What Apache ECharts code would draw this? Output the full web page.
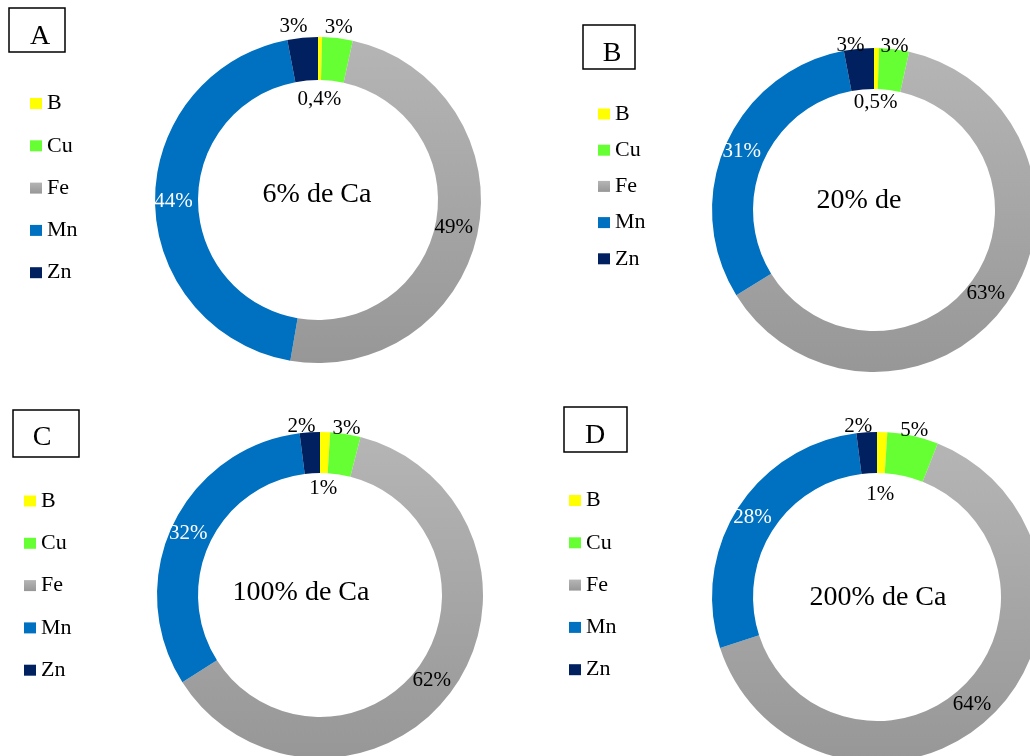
<!DOCTYPE html>
<html>
<head>
<meta charset="utf-8">
<script src="https://cdn.jsdelivr.net/npm/echarts@6/dist/echarts.min.js"></script>
<style>
  html, body { margin: 0; padding: 0; background: #fff; }
  #chart { width: 1030px; height: 756px; }
</style>
</head>
<body>
<div id="chart"></div>
<script>
// Micronutrient shares (%) for each calcium level
const elements = ['B', 'Cu', 'Fe', 'Mn', 'Zn'];
const panelLetters = ['A', 'B', 'C', 'D'];
const centerCaptions = ['6% de Ca', '20% de', '100% de Ca', '200% de Ca'];
const sharesA = [0.4, 3, 49, 44, 3];
const sharesB = [0.5, 3, 63, 31, 3];
const sharesC = [1, 3, 62, 32, 2];
const sharesD = [1, 5, 64, 28, 2];
const panelShares = [sharesA, sharesB, sharesC, sharesD];

const SERIF = "'Liberation Serif', 'Times New Roman', serif";

const feGradient = {
  type: 'linear', x: 0, y: 0, x2: 0, y2: 1,
  colorStops: [{ offset: 0, color: '#B5B5B5' }, { offset: 1, color: '#979797' }]
};
const sliceColors = ['#FFFF00', '#66FF33', feGradient, '#0070C0', '#002060'];

// Placement of each panel on the page
const layouts = [
  { center: [318, 200], radius: [120, 163], outerGap: 11, holeInset: 19,
    legend: { left: 30, top: 92.5, gap: 20.3 },
    box: [9, 8, 56, 44], letterAt: [40, 37], captionAt: [317, 195] },
  { center: [874, 210], radius: [121, 162], outerGap: 3, holeInset: 13,
    legend: { left: 598, top: 103, gap: 14.2 },
    box: [583, 25, 52, 44], letterAt: [612, 54], captionAt: [859, 201] },
  { center: [320, 595], radius: [122, 163], outerGap: 6, holeInset: 15,
    legend: { left: 24, top: 490, gap: 20.3 },
    box: [13, 410, 66, 47], letterAt: [42, 438], captionAt: [301, 593] },
  { center: [877, 597], radius: [124, 165], outerGap: 6, holeInset: 21,
    legend: { left: 569, top: 489.5, gap: 20.3 },
    box: [564, 407, 63, 45], letterAt: [595, 436], captionAt: [878, 598] }
];

function pctLabel(p) {
  return String(p.value).replace('.', ',') + '%';
}

// Outside labels sit over their radial anchor; left-side ones lean outward.
// Fe labels inside the ring sit a little towards the hole.
function placeLabel(params) {
  const w = params.labelRect.width;
  if (params.align === 'left') return { dx: -w / 2 };
  if (params.align === 'right') return { dx: w / 2 - 8 };
  if (elements[params.dataIndex] === 'Fe') return { dx: -6 };
  return {};
}

function buildSeries(values, i) {
  const lay = layouts[i];
  const ringWidth = lay.radius[1] - lay.radius[0];
  return {
    type: 'pie',
    name: panelLetters[i],
    center: lay.center,
    radius: lay.radius,
    startAngle: 90,
    clockwise: true,
    avoidLabelOverlap: false,
    silent: true,
    animation: false,
    label: {
      fontFamily: SERIF, fontSize: 21, color: '#000',
      formatter: pctLabel, distanceToLabelLine: 0
    },
    labelLine: { show: false, length: lay.outerGap, length2: 0 },
    labelLayout: placeLabel,
    data: elements.map((name, k) => {
      const item = { name: name, value: values[k], itemStyle: { color: sliceColors[k], borderWidth: 0 } };
      if (name === 'Fe' || name === 'Mn') {
        item.label = { position: 'inside', color: name === 'Mn' ? '#fff' : '#000' };
      } else if (name === 'B') {
        item.label = { position: 'outside' };
        item.labelLine = { show: false, length: -(ringWidth + lay.holeInset), length2: 0 };
      } else {
        item.label = { position: 'outside' };
      }
      return item;
    })
  };
}

const legendItems = elements.map((name, k) => ({
  name: name,
  itemStyle: { color: sliceColors[k], borderWidth: 0, opacity: 1 }
}));

const legends = layouts.map(lay => ({
  data: legendItems,
  orient: 'vertical',
  left: lay.legend.left,
  top: lay.legend.top,
  padding: 0,
  itemGap: lay.legend.gap,
  itemWidth: 12,
  itemHeight: 11,
  icon: 'rect',
  selectedMode: false,
  textStyle: { fontFamily: SERIF, fontSize: 22, color: '#000', lineHeight: 22 }
}));

const graphics = [];
layouts.forEach((lay, i) => {
  graphics.push({
    type: 'rect', silent: true,
    shape: { x: lay.box[0], y: lay.box[1], width: lay.box[2], height: lay.box[3] },
    style: { fill: 'none', stroke: '#000', lineWidth: 1.5 }
  });
  graphics.push({
    type: 'text', silent: true, x: lay.letterAt[0], y: lay.letterAt[1],
    style: { text: panelLetters[i], font: '28px ' + SERIF, fill: '#000',
             align: 'center', verticalAlign: 'middle' }
  });
  graphics.push({
    type: 'text', silent: true, x: lay.captionAt[0], y: lay.captionAt[1],
    style: { text: centerCaptions[i], font: '28px ' + SERIF, fill: '#000',
             align: 'center', verticalAlign: 'middle' }
  });
});

const chart = echarts.init(document.getElementById('chart'), null, { renderer: 'canvas' });
chart.setOption({
  backgroundColor: '#fff',
  animation: false,
  legend: legends,
  series: panelShares.map(buildSeries),
  graphic: graphics
});
</script>
</body>
</html>
